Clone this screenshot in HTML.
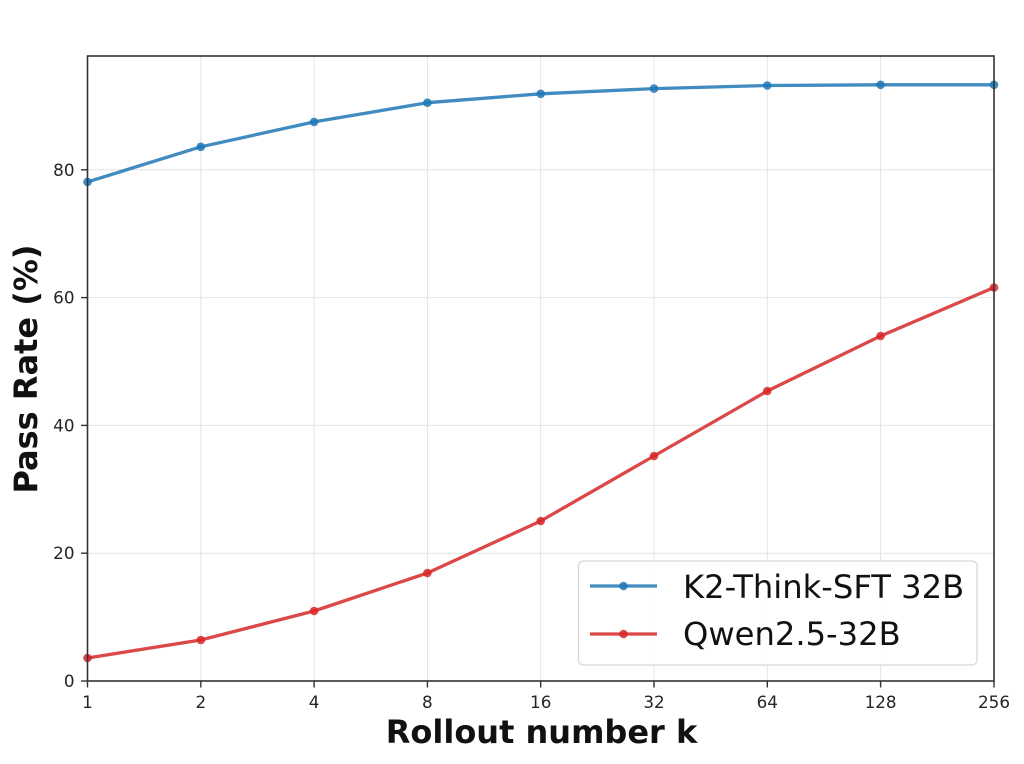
<!DOCTYPE html>
<html>
<head>
<meta charset="utf-8">
<style>
html,body{margin:0;padding:0;background:#fff;}
svg{display:block;}
text{font-family:"DejaVu Sans","Liberation Sans",sans-serif;}
</style>
</head>
<body>
<svg width="1024" height="764" viewBox="0 0 1024 764" xmlns="http://www.w3.org/2000/svg">
<rect width="1024" height="764" fill="#fff"/>
<!-- grid -->
<g stroke="#e4e4e4" stroke-width="1">
<line x1="200.8" y1="56" x2="200.8" y2="681"/>
<line x1="314.1" y1="56" x2="314.1" y2="681"/>
<line x1="427.4" y1="56" x2="427.4" y2="681"/>
<line x1="540.7" y1="56" x2="540.7" y2="681"/>
<line x1="654" y1="56" x2="654" y2="681"/>
<line x1="767.3" y1="56" x2="767.3" y2="681"/>
<line x1="880.6" y1="56" x2="880.6" y2="681"/>
<line x1="87.5" y1="553.2" x2="994" y2="553.2"/>
<line x1="87.5" y1="425.4" x2="994" y2="425.4"/>
<line x1="87.5" y1="297.6" x2="994" y2="297.6"/>
<line x1="87.5" y1="169.8" x2="994" y2="169.8"/>
</g>
<!-- blue series -->
<g fill="none" stroke="#1f77b4" stroke-opacity="0.85" stroke-width="3.3" stroke-linejoin="round">
<polyline points="87.5,181.9 200.8,146.8 314.1,121.9 427.4,102.7 540.7,93.8 654,88.6 767.3,85.5 880.6,84.8 994,84.8"/>
</g>
<g fill="#1f77b4" fill-opacity="0.85">
<circle cx="87.5" cy="181.9" r="4.3"/><circle cx="200.8" cy="146.8" r="4.3"/><circle cx="314.1" cy="121.9" r="4.3"/>
<circle cx="427.4" cy="102.7" r="4.3"/><circle cx="540.7" cy="93.8" r="4.3"/><circle cx="654" cy="88.6" r="4.3"/>
<circle cx="767.3" cy="85.5" r="4.3"/><circle cx="880.6" cy="84.8" r="4.3"/><circle cx="994" cy="84.8" r="4.3"/>
</g>
<!-- red series -->
<g fill="none" stroke="#d62728" stroke-opacity="0.85" stroke-width="3.3" stroke-linejoin="round">
<polyline points="87.5,658 200.8,640 314.1,611 427.4,573 540.7,521 654,456 767.3,391 880.6,336 994,287.5"/>
</g>
<g fill="#d62728" fill-opacity="0.85">
<circle cx="87.5" cy="658" r="4.3"/><circle cx="200.8" cy="640" r="4.3"/><circle cx="314.1" cy="611" r="4.3"/>
<circle cx="427.4" cy="573" r="4.3"/><circle cx="540.7" cy="521" r="4.3"/><circle cx="654" cy="456" r="4.3"/>
<circle cx="767.3" cy="391" r="4.3"/><circle cx="880.6" cy="336" r="4.3"/><circle cx="994" cy="287.5" r="4.3"/>
</g>
<!-- spines -->
<rect x="87.5" y="56" width="906.5" height="625" fill="none" stroke="#333" stroke-width="1.6"/>
<!-- ticks -->
<g stroke="#333" stroke-width="1.4">
<line x1="81" y1="681" x2="87.5" y2="681"/>
<line x1="81" y1="553.2" x2="87.5" y2="553.2"/>
<line x1="81" y1="425.4" x2="87.5" y2="425.4"/>
<line x1="81" y1="297.6" x2="87.5" y2="297.6"/>
<line x1="81" y1="169.8" x2="87.5" y2="169.8"/>
<line x1="87.5" y1="681" x2="87.5" y2="687.5"/>
<line x1="200.8" y1="681" x2="200.8" y2="687.5"/>
<line x1="314.1" y1="681" x2="314.1" y2="687.5"/>
<line x1="427.4" y1="681" x2="427.4" y2="687.5"/>
<line x1="540.7" y1="681" x2="540.7" y2="687.5"/>
<line x1="654" y1="681" x2="654" y2="687.5"/>
<line x1="767.3" y1="681" x2="767.3" y2="687.5"/>
<line x1="880.6" y1="681" x2="880.6" y2="687.5"/>
<line x1="994" y1="681" x2="994" y2="687.5"/>
</g>
<!-- y tick labels -->
<g font-size="16.8" fill="#262626" text-anchor="end">
<text x="74.5" y="687">0</text>
<text x="74.5" y="559.2">20</text>
<text x="74.5" y="431.4">40</text>
<text x="74.5" y="303.6">60</text>
<text x="74.5" y="175.8">80</text>
</g>
<!-- x tick labels -->
<g font-size="16.8" fill="#262626" text-anchor="middle">
<text x="87.5" y="708">1</text>
<text x="200.8" y="708">2</text>
<text x="314.1" y="708">4</text>
<text x="427.4" y="708">8</text>
<text x="540.7" y="708">16</text>
<text x="654" y="708">32</text>
<text x="767.3" y="708">64</text>
<text x="880.6" y="708">128</text>
<text x="994" y="708">256</text>
</g>
<!-- axis labels -->
<text x="541.5" y="743" font-size="32" font-weight="bold" fill="#111" text-anchor="middle">Rollout number k</text>
<text transform="translate(37,369) rotate(-90)" font-size="32" font-weight="bold" fill="#111" text-anchor="middle">Pass Rate (%)</text>
<!-- legend -->
<rect x="578.5" y="561" width="398.5" height="104" rx="5" ry="5" fill="#fff" fill-opacity="0.9" stroke="#d6d6d6" stroke-width="1.2"/>
<line x1="590" y1="586" x2="657" y2="586" stroke="#1f77b4" stroke-opacity="0.85" stroke-width="3.3"/>
<circle cx="623.5" cy="586" r="4.3" fill="#1f77b4" fill-opacity="0.85"/>
<line x1="590" y1="634" x2="657" y2="634" stroke="#d62728" stroke-opacity="0.85" stroke-width="3.3"/>
<circle cx="623.5" cy="634" r="4.3" fill="#d62728" fill-opacity="0.85"/>
<g font-size="32.2" fill="#111">
<text x="683" y="598">K2-Think-SFT 32B</text>
<text x="683" y="645">Qwen2.5-32B</text>
</g>
</svg>
</body>
</html>
